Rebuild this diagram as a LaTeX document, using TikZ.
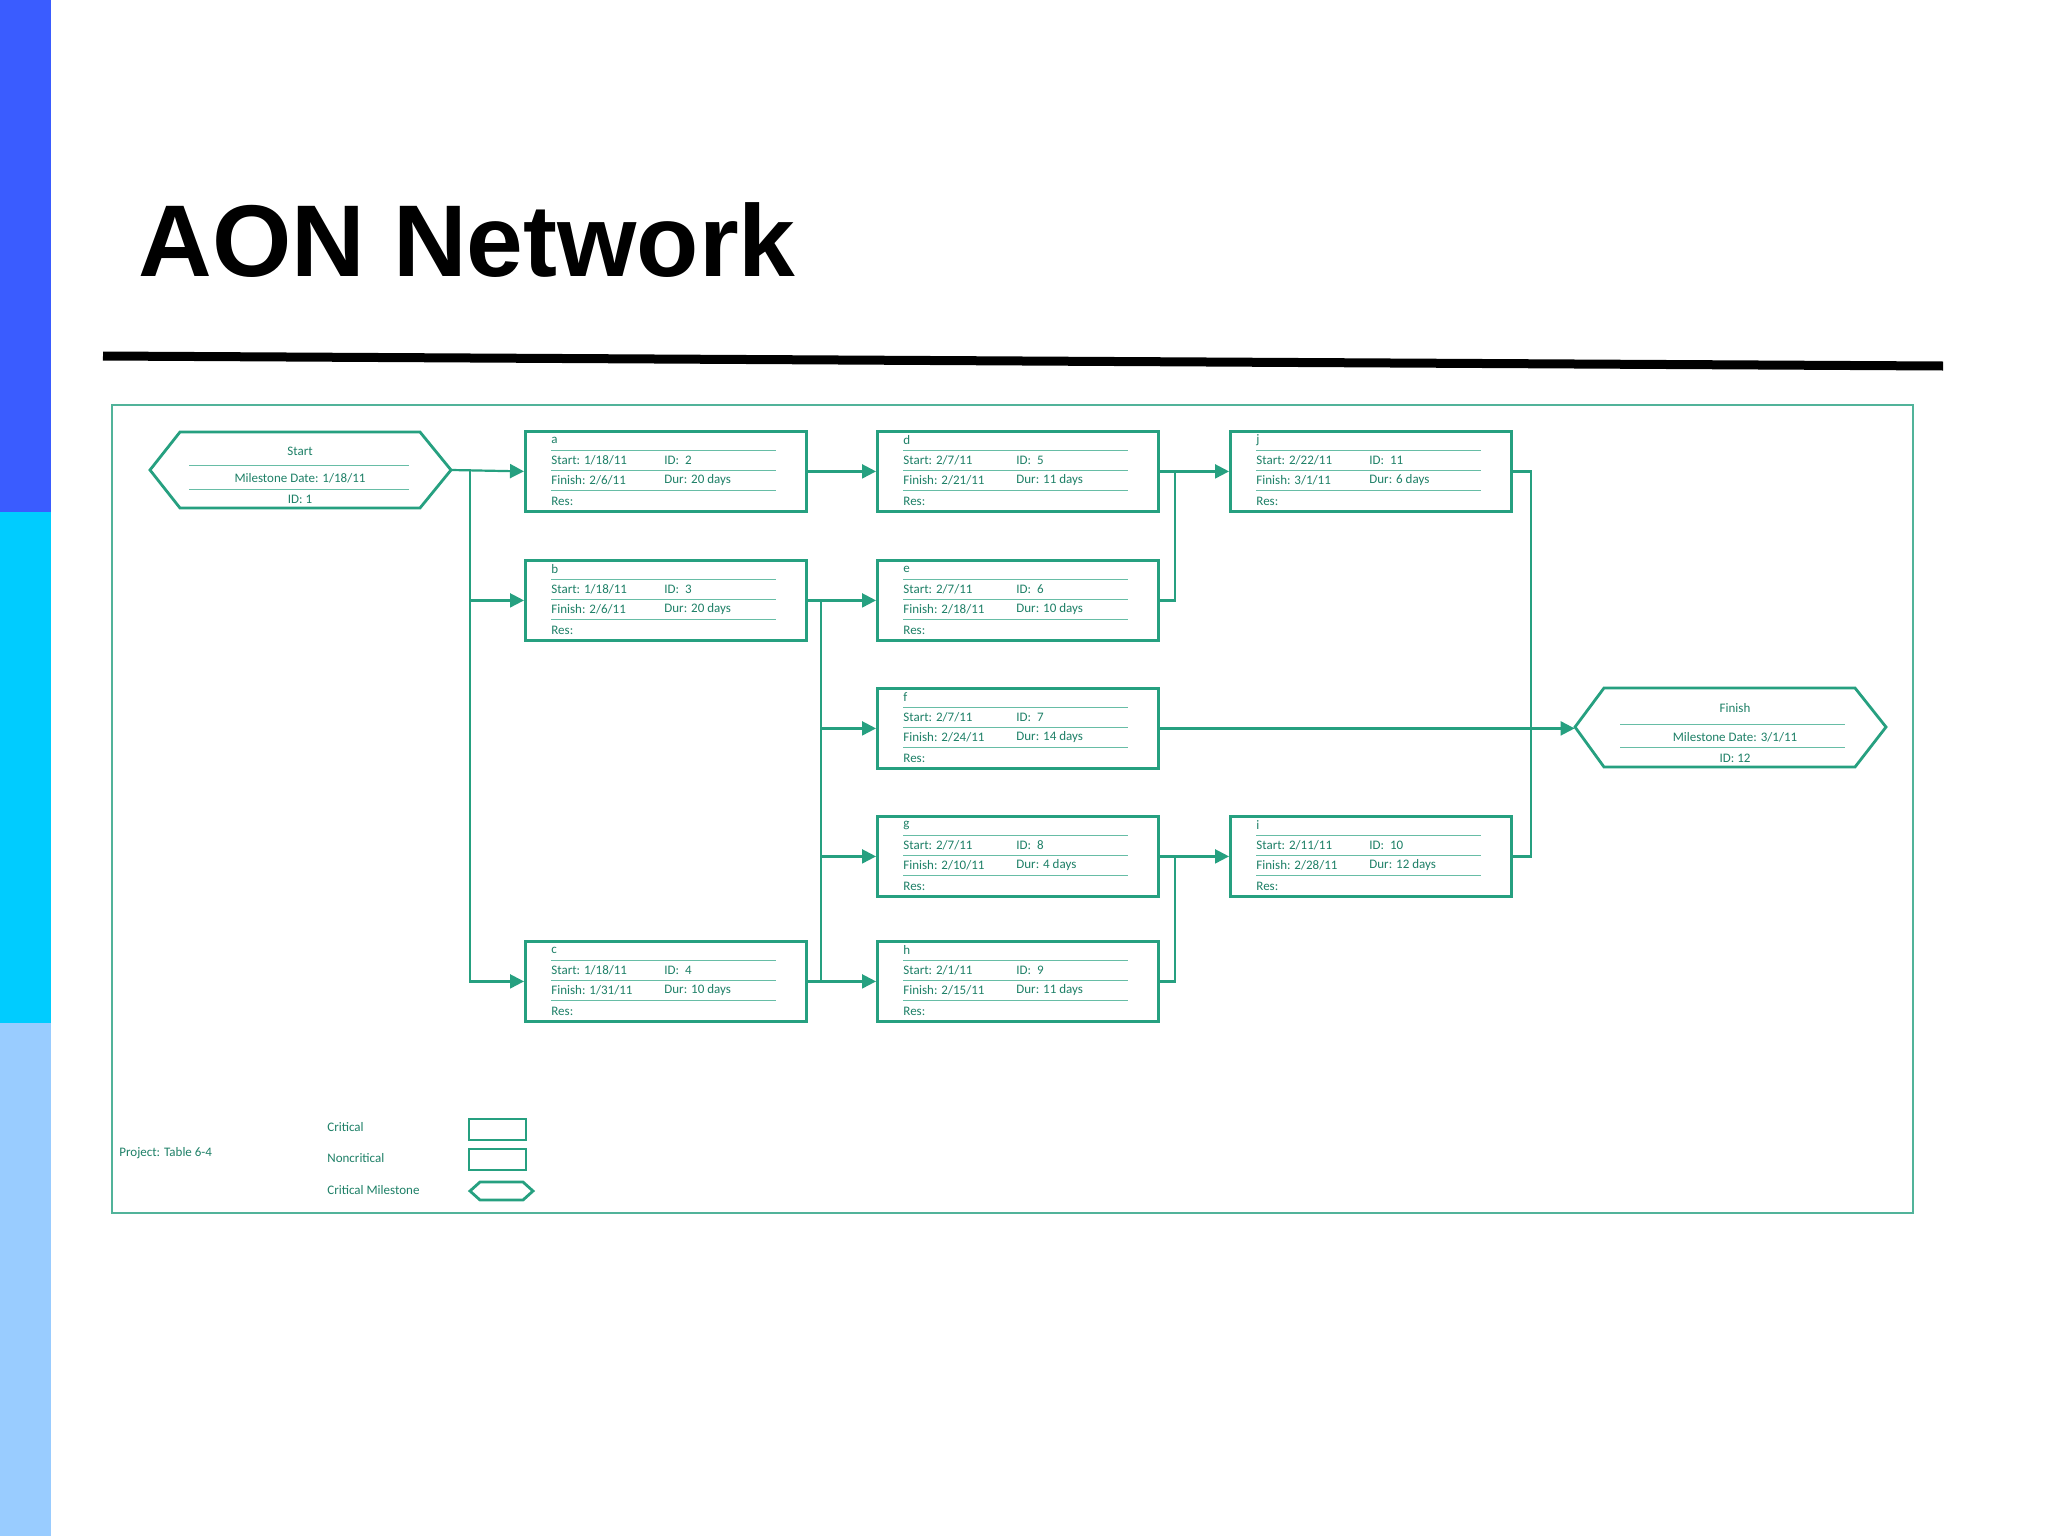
\documentclass[tikz,border=0pt]{standalone}
\usepackage{fontspec}
\setmainfont{Liberation Sans}
\newfontfamily\boxfont{Carlito}
\usetikzlibrary{arrows.meta}
\definecolor{tl}{RGB}{38,160,128}
\definecolor{barA}{RGB}{58,92,255}
\definecolor{barB}{RGB}{0,204,255}
\definecolor{barC}{RGB}{153,204,255}
\tikzset{
  conn/.style={draw=tl,line width=1.1pt,-{Triangle[length=7pt,width=7pt]}},
  seg/.style={draw=tl,line width=1.1pt},
  tbox/.style={draw=tl,line width=1.4pt,rectangle,minimum width=140.5pt,minimum height=40pt,anchor=north west,inner sep=0pt},
  sep/.style={draw=tl!70,line width=0.5pt},
  tx/.style={font=\boxfont\fontsize{6.5}{7}\selectfont,text=tl!80!black,anchor=west,inner sep=0pt},
  txc/.style={font=\boxfont\fontsize{6.5}{7}\selectfont,text=tl!80!black,inner sep=0pt},
}
\newcommand\tasknode[8]{%
  \node[tbox] (#1) at (#2,#3) {};
  \node[tx] (#1-n) at ({#2+27},{#3+10}) {#4};
  \draw[sep] ({#2+27},{#3+20}) -- ({#2+252},{#3+20});
  \node[tx] (#1-s) at ({#2+27},{#3+30}) {Start: #5};
  \node[tx] (#1-i) at ({#2+140},{#3+30}) {ID:\ \ #6};
  \draw[sep] ({#2+27},{#3+40}) -- ({#2+252},{#3+40});
  \node[tx] (#1-f) at ({#2+27},{#3+50}) {Finish: #7};
  \node[tx] (#1-d) at ({#2+140},{#3+50}) {Dur: #8};
  \draw[sep] ({#2+27},{#3+60}) -- ({#2+252},{#3+60});
  \node[tx] (#1-r) at ({#2+27},{#3+71}) {Res:};
}
\begin{document}
\begin{tikzpicture}[x=0.5pt,y=-0.5pt]
\useasboundingbox (0,0) rectangle (2048,1536);
\fill[white] (0,0) rectangle (2048,1536);
\fill[barA] (0,0) rectangle (51,512);
\fill[barB] (0,512) rectangle (51,1023);
\fill[barC] (0,1023) rectangle (51,1536);
\node[anchor=west,inner sep=0pt,font=\bfseries\fontsize{51}{60}\selectfont] (title) at (138,240) {AON Network};
\draw[line width=4.5pt] (103,356) -- (1943,366);
\draw[tl!80,line width=1.3pt] (112,405) rectangle (1913,1213);

% Start milestone
\node[minimum width=150.5pt,minimum height=38pt,inner sep=0pt] (startms) at (300.5,470) {};
\draw[tl,line width=1.4pt] (150,470) -- (180,432) -- (420,432) -- (451,470) -- (420,508) -- (180,508) -- cycle;
\node[txc] (st1) at (300,451) {Start};
\draw[sep] (189,465) -- (409,465);
\node[txc] (st2) at (300,478) {Milestone Date: 1/18/11};
\draw[sep] (189,489) -- (409,489);
\node[txc] (st3) at (300,499) {ID: 1};

% Finish milestone
\node[minimum width=155.5pt,minimum height=39.5pt,inner sep=0pt] (finishms) at (1730.5,727) {};
\draw[tl,line width=1.4pt] (1575,727) -- (1604,688) -- (1855,688) -- (1886,727) -- (1855,767) -- (1604,767) -- cycle;
\node[txc] (fm1) at (1735,708) {Finish};
\draw[sep] (1620,724) -- (1845,724);
\node[txc] (fm2) at (1735,737) {Milestone Date: 3/1/11};
\draw[sep] (1620,747) -- (1845,747);
\node[txc] (fm3) at (1735,758) {ID: 12};

\tasknode{a}{524}{430}{a}{1/18/11}{2}{2/6/11}{20 days}
\tasknode{b}{524}{559}{b}{1/18/11}{3}{2/6/11}{20 days}
\tasknode{c}{524}{940}{c}{1/18/11}{4}{1/31/11}{10 days}
\tasknode{d}{876}{430}{d}{2/7/11}{5}{2/21/11}{11 days}
\tasknode{e}{876}{559}{e}{2/7/11}{6}{2/18/11}{10 days}
\tasknode{f}{876}{687}{f}{2/7/11}{7}{2/24/11}{14 days}
\tasknode{g}{876}{815}{g}{2/7/11}{8}{2/10/11}{4 days}
\tasknode{h}{876}{940}{h}{2/1/11}{9}{2/15/11}{11 days}
\tasknode{j}{1229}{430}{j}{2/22/11}{11}{3/1/11}{6 days}
\tasknode{i}{1229}{815}{i}{2/11/11}{10}{2/28/11}{12 days}

% connectors
\coordinate (busA) at (470,470);
\coordinate (busB) at (821,599);
\draw[conn] (startms.east) -- (a.west);
\draw[conn] (startms.east) -| (busA |- b.west) -- (b.west);
\draw[conn] (startms.east) -| (busA |- c.west) -- (c.west);
\draw[conn] (a.east) -- (d.west);
\draw[conn] (b.east) -- (e.west);
\draw[seg] (busB |- b.east) -- (busB |- c.east);
\draw[seg] (c.east) -- (busB |- c.east);
\draw[conn] (busB |- f.west) -- (f.west);
\draw[conn] (busB |- g.west) -- (g.west);
\draw[conn] (busB |- h.west) -- (h.west);
\draw[conn] (d.east) -- (j.west);
\draw[seg] (e.east) -| (1175,470);
\draw[conn] (g.east) -- (i.west);
\draw[seg] (h.east) -| (1175,855);
\draw[conn] (f.east) -- (finishms.west |- f.east);
\draw[seg] (j.east) -| (1531,727);
\draw[seg] (i.east) -| (1531,727);

% legend
\node[tx] (proj) at (119,1153) {Project: Table 6-4};
\node[tx] (l1) at (327,1127) {Critical};
\node[tx] (l2) at (327,1158) {Noncritical};
\node[tx] (l3) at (327,1190) {Critical Milestone};
\node[draw=tl,line width=1.4pt,minimum width=28.5pt,minimum height=10.5pt,inner sep=0pt] (r1) at (497.5,1129.5) {};
\node[draw=tl,line width=1.4pt,minimum width=28.5pt,minimum height=10.5pt,inner sep=0pt] (r2) at (497.5,1159.5) {};
\draw[tl,line width=1.4pt] (470,1191) -- (480,1182) -- (523,1182) -- (533,1191) -- (523,1200) -- (480,1200) -- cycle;
\end{tikzpicture}
\end{document}
